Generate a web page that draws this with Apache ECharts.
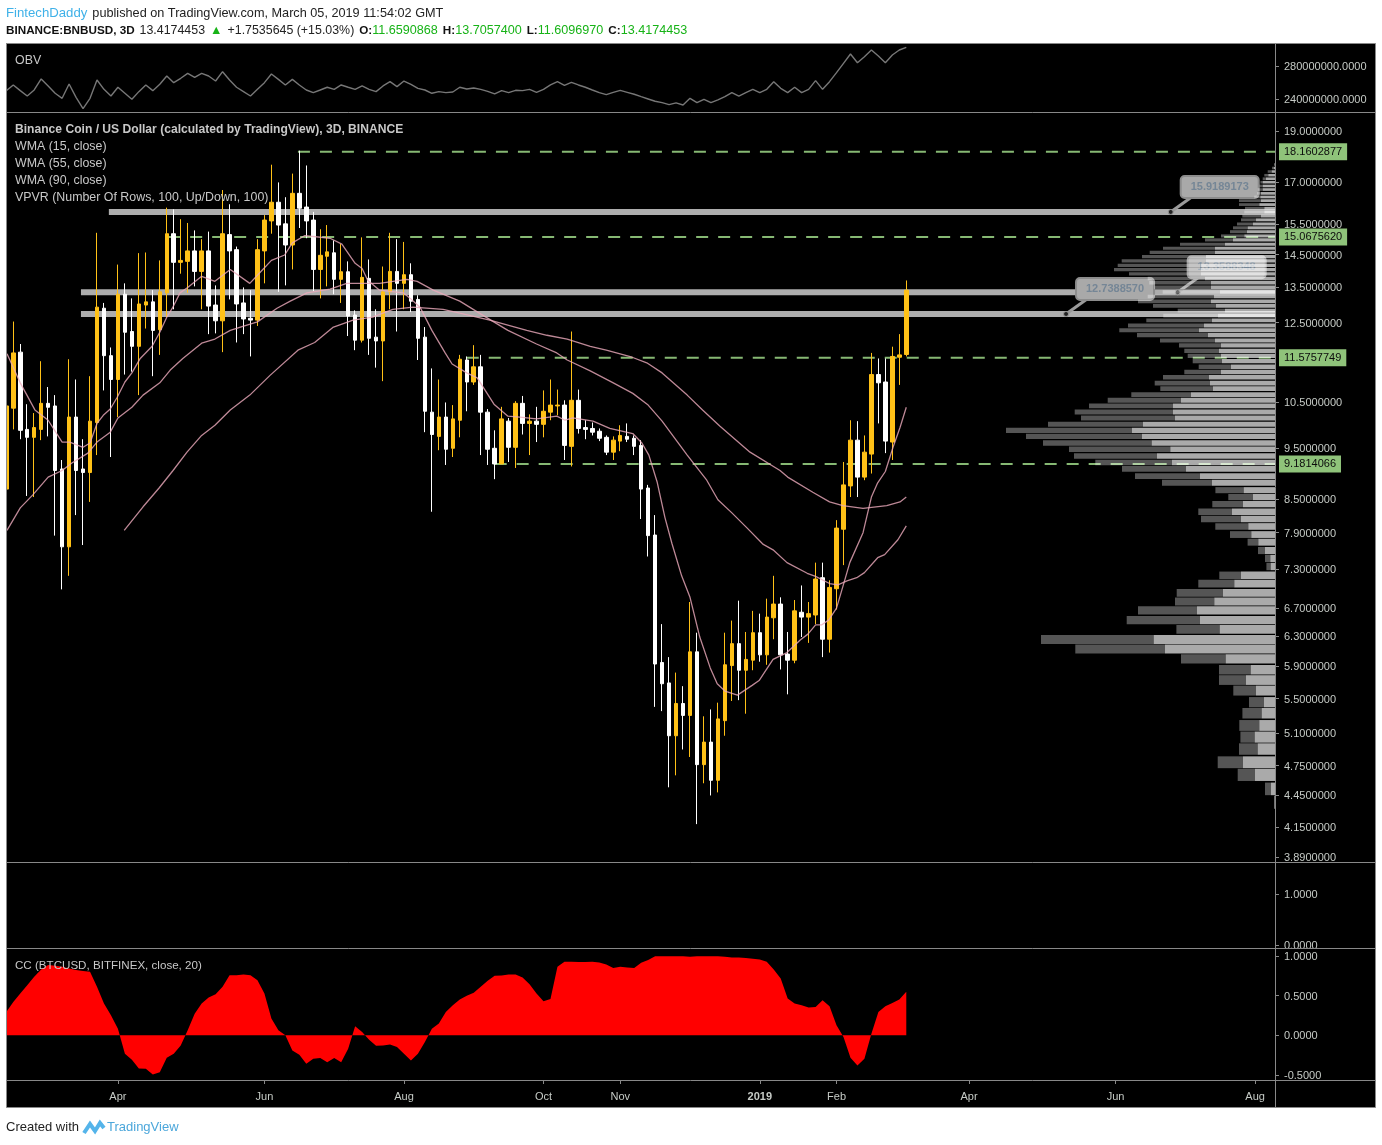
<!DOCTYPE html>
<html>
<head>
<meta charset="utf-8">
<title>BNBUSD 3D</title>
<style>
  html, body { margin: 0; padding: 0; background: #fff; }
  #main { width: 1382px; height: 1145px; }
</style>
<script src="https://cdn.jsdelivr.net/npm/echarts@6/dist/echarts.min.js"></script>
</head>
<body>
<div id="main"></div>
<script>
// open, close, low, high per 3D bar
const ohlc = [
  [8.69,10.42,8.69,10.42],[10.37,11.70,9.90,12.53],[11.72,9.88,9.69,11.93],[9.90,9.73,8.56,10.46],[9.73,9.94,8.54,10.26],
  [9.90,10.48,9.67,11.49],[10.48,10.39,9.75,10.86],[10.42,9.05,7.85,10.67],[9.08,7.66,6.98,9.26],[7.66,10.17,7.19,11.54],
  [10.17,9.05,8.21,11.04],[9.08,9.01,7.69,9.69],[9.01,10.08,8.45,11.12],[10.05,12.93,9.36,15.21],[12.90,11.63,10.78,13.05],
  [11.63,11.04,9.32,11.84],[11.04,13.30,10.17,14.19],[13.30,12.24,11.16,13.62],[12.26,11.87,11.23,13.18],[11.87,13.02,10.67,14.55],
  [12.99,13.08,12.34,14.57],[13.08,12.29,11.12,13.42],[12.31,13.37,11.65,14.32],[13.34,15.18,12.65,16.07],[15.18,14.26,12.87,16.01],
  [14.26,14.32,13.91,15.67],[14.29,14.62,13.34,15.54],[14.62,13.98,13.53,15.29],[13.98,14.62,12.87,15.00],[14.62,12.96,12.19,15.25],
  [12.99,12.55,12.21,13.56],[12.55,15.18,11.72,16.70],[15.15,14.62,13.15,16.19],[14.66,13.02,11.97,14.76],[13.05,12.60,12.19,13.50],
  [12.62,12.57,11.61,13.42],[12.57,14.66,12.41,15.00],[14.62,15.64,13.62,15.81],[15.61,16.26,15.18,17.65],[16.26,15.47,13.37,16.98],
  [15.51,14.81,13.56,16.44],[14.81,16.58,14.04,17.31],[16.58,16.05,15.37,18.20],[16.09,15.61,15.03,17.62],[15.64,14.04,13.39,15.92],
  [14.04,14.48,13.18,15.33],[14.45,14.59,13.53,15.47],[14.56,13.74,13.30,14.96],[13.74,13.97,13.05,14.84],[13.97,12.68,12.14,14.29],
  [12.71,12.03,11.77,12.84],[12.03,13.80,11.97,15.06],[13.77,12.08,11.65,14.35],[12.11,12.01,11.33,12.87],[12.01,13.37,11.00,14.13],
  [13.37,13.98,12.87,15.21],[13.98,13.62,12.26,15.00],[13.62,13.88,12.87,14.91],[13.88,13.10,12.79,14.23],[13.15,12.08,11.52,13.27],
  [12.11,10.30,9.84,12.38],[10.28,9.79,8.27,11.31],[9.75,10.17,9.46,11.04],[10.17,9.48,9.16,10.50],[9.50,10.13,9.32,10.44],
  [10.10,11.54,9.73,11.65],[11.52,10.98,10.30,11.61],[10.98,11.35,10.91,11.90],[11.35,10.28,9.36,11.65],[10.28,9.48,9.16,10.35],
  [9.50,9.18,8.88,9.88],[9.18,10.13,9.18,10.40],[10.08,9.52,9.22,10.15],[9.52,10.48,9.10,10.53],[10.48,10.03,9.79,10.65],
  [10.03,10.08,9.36,10.23],[10.08,10.01,9.63,10.40],[10.01,10.30,9.73,10.78],[10.28,10.44,10.10,11.04],[10.42,10.44,10.21,10.80],
  [10.44,9.56,9.26,10.55],[9.54,10.55,9.13,12.26],[10.55,9.92,9.81,10.80],[9.94,9.90,9.69,10.10],[9.92,9.84,9.77,10.05],
  [9.86,9.71,9.65,9.92],[9.73,9.42,9.36,9.77],[9.42,9.67,9.26,9.75],[9.65,9.77,9.44,9.99],[9.75,9.69,9.63,10.03],
  [9.71,9.54,9.36,9.77],[9.56,8.69,8.14,9.67],[8.71,7.85,7.50,8.77],[7.86,5.93,5.40,8.21],[5.95,5.68,5.35,6.47],
  [5.69,5.07,4.53,6.02],[5.07,5.44,4.65,5.82],[5.44,5.30,4.92,5.65],[5.30,6.09,4.84,6.79],[6.09,4.76,4.18,6.35],
  [4.76,5.00,4.57,5.29],[5.00,4.60,4.45,5.37],[4.60,5.26,4.48,5.45],[5.24,5.92,5.07,6.35],[5.91,6.20,5.47,6.52],
  [6.20,5.85,5.48,6.81],[5.85,5.99,5.32,6.36],[5.98,6.35,5.85,6.66],[6.35,6.05,5.96,6.62],[6.05,6.57,5.92,6.84],
  [6.56,6.76,6.26,7.19],[6.76,6.05,5.86,6.86],[6.06,5.98,5.55,6.36],[5.98,6.66,5.94,6.82],[6.64,6.57,6.29,7.04],
  [6.57,6.62,6.21,6.79],[6.60,7.14,6.47,7.40],[7.16,6.26,6.02,7.40],[6.26,7.01,6.08,7.12],[6.99,7.98,6.68,8.12],
  [7.96,8.77,7.36,9.22],[8.75,9.67,8.54,10.10],[9.67,8.92,8.54,10.08],[8.92,9.42,8.86,9.77],[9.38,11.16,8.99,11.70],
  [11.16,10.96,10.03,11.56],[10.98,9.65,9.40,11.56],[9.63,11.61,9.26,11.86],[11.59,11.65,10.91,12.19],[11.659,13.417,11.61,13.706]
];

// [bar index, price] read along each WMA
const wma15 = [
  [0.1,11.68],[2,10.96],[4.1,10.33],[6,10.10],[8,9.63],[9.1,9.63],[11,9.52],[12,9.61],[13,10.03],[13.9,10.21],[14.9,10.35],[15.9,10.62],
  [17,10.98],[18,11.20],[19.2,11.56],[20.9,11.87],[22,12.24],[23,12.65],[23.8,12.90],[24.9,13.34],[26,13.50],[28,13.83],[29.9,13.68],
  [32.1,14.04],[34.9,13.62],[36.6,14.00],[38,14.32],[39.9,14.49],[41,14.88],[42.8,15.12],[46.4,15.03],[48.1,14.84],[50,14.23],[51,14.07],
  [51.8,13.71],[53.5,13.42],[56.9,13.34],[57.9,13.18],[59.3,12.93],[61,12.29],[62.9,11.70],[63.9,11.42],[66,11.20],[67.5,11.08],
  [69.9,10.46],[71.9,10.19],[73.6,10.17],[76,10.13],[78.9,10.19],[80.1,10.10],[81.2,10.15],[84.1,10.08],[86.5,9.92],[89.8,9.81],
  [91.1,9.61],[92.1,9.36],[93.3,8.82],[94.4,8.17],[95.4,7.72],[96.8,7.19],[98,6.86],[99.4,6.29],[100.9,5.88],[101.9,5.68],[103,5.59],
  [104.8,5.54],[106.9,5.66],[107.9,5.72],[109.9,5.99],[111.9,6.08],[113.8,6.25],[114.9,6.33],[116,6.46],[116.9,6.46],[117.9,6.53],
  [119,6.70],[120.2,7.13],[120.9,7.40],[122.8,7.90],[124,8.54],[124.9,8.81],[126,9.03],[127.1,9.52],[128.1,9.94],[129,10.39]
];
const wma55 = [
  [0.1,7.94],[2,8.34],[3.8,8.58],[6,8.92],[8,9.05],[9.4,9.20],[11.7,9.40],[13,9.63],[14.9,9.84],[16,10.15],[18,10.39],[19.6,10.67],
  [22,10.96],[23.5,11.27],[25.3,11.56],[28,11.95],[29.9,12.06],[32.1,12.29],[33.9,12.40],[36,12.52],[38.8,12.90],[40.7,13.10],
  [43.1,13.34],[46.4,13.45],[48.8,13.62],[50.7,13.62],[53.5,13.62],[57.4,13.74],[58.9,13.68],[61.2,13.42],[65,13.10],[68.5,12.68],
  [71.9,12.29],[76,11.93],[78.9,11.70],[80.4,11.52],[83.7,11.25],[87,10.96],[89.8,10.71],[92,10.44],[94,10.08],[97.6,9.36],[100.4,8.86],
  [102,8.49],[104,8.25],[106.2,7.98],[108.5,7.70],[109.9,7.61],[111.9,7.40],[114.8,7.23],[116,7.18],[118,7.07],[119.2,7.05],[120.5,7.11],
  [121.9,7.16],[123,7.24],[124.9,7.48],[125.9,7.53],[127.8,7.78],[129,8.02]
];
const wma90 = [
  [16.9,7.94],[19.6,8.36],[21.9,8.71],[23.9,9.05],[25.9,9.42],[28,9.77],[29.9,9.99],[32.1,10.33],[34.9,10.67],[37.8,11.14],[41.8,11.77],
  [44.2,11.97],[46.8,12.37],[49.7,12.57],[52.5,12.65],[55.4,12.87],[58.3,12.93],[62.6,12.87],[65,12.76],[69.3,12.57],[74.6,12.29],
  [77.5,12.16],[80.4,12.06],[83.7,11.87],[86,11.77],[89.7,11.59],[91.8,11.45],[94,11.20],[97.6,10.67],[99.8,10.33],[102.3,9.97],
  [106.6,9.42],[110.9,9.05],[112,8.92],[115.6,8.63],[118,8.45],[119.9,8.38],[122.8,8.33],[126.2,8.38],[128.1,8.45],[129,8.54]
];

// OBV in millions, one per bar
const obv = [
  250.1,257,250.1,243.6,250.9,264.3,255.8,246.9,240.8,258.2,242,228.3,240.8,263,251.7,243.6,254.2,246.9,239.6,248.9,
  257,250.1,257.8,267.9,259.8,265.1,271.1,266.3,271.1,267.9,261.8,273.1,263,254.2,248.9,243.6,251.7,259.8,270.3,263.8,
  257,263.8,257,250.9,247.7,250.9,254.2,251.7,257,254.2,251.7,255.8,251.7,248.9,255.8,261,255,261.8,257.8,252.9,
  250.9,246.9,248.9,247.7,248.5,254.2,252.1,253.3,251.7,249.3,246.1,250.1,247.7,250.5,250.1,251.7,248.1,251.7,257,261,
  256.6,260.2,257,254.2,250.9,247.7,245.3,248.1,250.5,248.1,245.7,242.8,240,237.2,235.6,233.1,235.2,232.7,240.8,235.6,
  239.6,235.6,238.8,242.8,247.7,243.6,247.7,251.7,247.7,251.7,261,252.9,247.7,254.2,247.7,251.7,262.2,251.7,261,271.9,
  283.2,294.6,284,291.3,299.4,292.1,284,293.3,299.4,302.6
];

// CC (BTCUSD) correlation, one per bar
const cc = [
  .295,.422,.527,.633,.738,.831,.886,.878,.865,.844,.823,.81,.802,.612,.401,.253,.084,-.232,-.308,-.418,
  -.422,-.494,-.464,-.283,-.232,-.127,.063,.274,.401,.477,.519,.612,.759,.759,.768,.759,.696,.527,.211,.063,
  0,-.19,-.245,-.359,-.295,-.287,-.338,-.287,-.338,-.169,.114,.042,-.055,-.131,-.127,-.114,-.148,-.232,-.316,-.232,
  -.084,.084,.148,.295,.38,.451,.498,.536,.612,.688,.751,.755,.768,.768,.73,.646,.527,.43,.46,.865,
  .928,.928,.924,.924,.928,.92,.895,.848,.865,.857,.848,.916,.949,.996,.996,.996,.996,.996,.992,.996,
  .996,.996,.996,.992,.983,.983,.975,.966,.958,.928,.831,.717,.464,.401,.38,.35,.359,.443,.367,.127,
  -.021,-.283,-.38,-.295,.021,.295,.367,.409,.451,.549
];

// volume profile rows, bottom to top
const vpvrPrices = [
  4.38,4.51,4.65,4.78,4.92,5.05,5.18,5.32,5.45,5.59,5.72,5.85,5.99,6.12,6.25,6.39,6.52,6.66,6.79,6.92,
  7.06,7.19,7.33,7.46,7.59,7.73,7.86,8.00,8.13,8.26,8.40,8.53,8.66,8.80,8.93,9.07,9.20,9.33,9.47,9.60,
  9.74,9.87,10.00,10.14,10.27,10.41,10.54,10.67,10.81,10.94,11.08,11.21,11.34,11.48,11.61,11.74,11.88,12.01,12.15,12.28,
  12.41,12.55,12.68,12.82,12.95,13.08,13.22,13.35,13.49,13.62,13.75,13.89,14.02,14.15,14.29,14.42,14.56,14.69,14.82,14.96,
  15.09,15.23,15.36,15.49,15.63,15.76,15.90,16.03,16.16,16.30,16.43,16.56,16.70,16.83,16.97,17.10,17.23,17.37,17.50,17.64
];
const vpvrUp = [
  .5,4,20,32,17.3,20.3,15.7,13.3,11,19,29,24.3,49.3,110,121.3,55.3,75,78,60.7,52,
  40.7,34,4.3,4.7,10,16.7,23.7,26.7,34,43,32,22,31.3,63,75,89,103,118,104.7,123.3,
  133,143,132,100,102,102,94,84,62,65,66,54,44,53,54,56,54,60,67,76,
  71,63,57,50,59,64,61,55,64,64,70,74,74,74,69,69,60,60,50,42,
  30.7,28,27.3,22,19,14,10.7,10.7,15.7,14,14.7,14,12.3,12.3,12.3,9,6.7,3.3,1.3,.5
];
const vpvrDown = [
  .5,6,17.3,25.3,18.7,14.3,20,19.3,15,22.7,27,31.7,44.7,89.7,112.7,43.3,73.3,59,39.3,46.3,
  36,21.7,4.3,5.3,7,10.7,21.3,33,40,33.7,30.7,24.7,28.3,50,65,64,76.7,83,101.3,108.7,
  116,126,95,94,98.3,84,73.3,59.7,52.7,55.3,46,36.7,32.3,29.3,33.3,34.7,42,55,71,79.7,
  76,65.7,54.7,47.3,63,73,66.3,57.3,56.7,61.7,57.3,72,87,83.3,84.3,64,65.3,52,45,28,
  23.3,17,14.7,16,15,18.7,20,19.3,20.3,22,6,4,5,3.3,2.3,3.3,4,4,1.7,.3
];
const vpvrStep = 0.1339;

// horizontal levels: price and first bar of the drawing
const dashedLevels = [18.1602877, 15.0675620, 11.5757749, 9.1814066];
const dashedStarts = [41.8, 23.2, 66, 70];
const solidLevels = [15.9189173, 13.3588348, 12.7388570];
const solidStarts = [14.7, 10.7, 10.7];
const calloutBars = [166.9, 167.9, 151.9];

const priceTicks = [19,17,15.5,14.5,13.5,12.5,10.5,9.5,8.5,7.9,7.3,6.7,6.3,5.9,5.5,5.1,4.75,4.45,4.15,3.89];
const obvTicks = [280000000, 240000000];
const blankTicks = [1, 0];
const ccTicks = [1, 0.5, 0, -0.5];
const monthBars = [16, 37, 57, 77, 88, 108, 119, 138, 159, 179];
const monthLabels = ['Apr','Jun','Aug','Oct','Nov','2019','Feb','Apr','Jun','Aug'];

const labelColor = '#c6cbc6';
const font = '"Liberation Sans", Arial, sans-serif';
const xMin = 0.1, xMax = 181.85;

const chart = echarts.init(document.getElementById('main'), null, { renderer: 'canvas' });

const grids = [
  { left: 7, width: 1268, top: 44, height: 68 },
  { left: 7, width: 1268, top: 113, height: 749 },
  { left: 7, width: 1268, top: 863, height: 85 },
  { left: 7, width: 1268, top: 949, height: 131 }
];

const xAxes = [0, 1, 2, 3].map(i => ({
  type: 'value',
  gridIndex: i,
  position: 'bottom',
  min: xMin,
  max: xMax,
  splitLine: { show: false },
  axisLine: { show: false, onZero: false },
  axisTick: i === 3 ? { show: true, length: 4, lineStyle: { color: '#888' }, customValues: monthBars } : { show: false },
  axisLabel: i === 3 ? {
    show: true,
    customValues: monthBars,
    margin: 11,
    color: labelColor,
    fontFamily: font,
    fontSize: 11,
    formatter: v => {
      const name = monthLabels[monthBars.indexOf(v)]
      return name === '2019' ? '{b|2019}' : name
    },
    rich: { b: { fontWeight: 'bold', color: labelColor, fontSize: 11, fontFamily: font } }
  } : { show: false }
}));
// hidden axis for the volume profile, grows from the right edge
xAxes.push({ type: 'value', gridIndex: 1, min: 0, max: 1268, inverse: true, show: false, splitLine: { show: false } });

function rightAxis(extra, ticks, digits) {
  return Object.assign({
    position: 'right',
    splitLine: { show: false },
    axisLine: { show: true, lineStyle: { color: '#888' } },
    axisTick: { show: true, length: 4, inside: false, lineStyle: { color: '#888' }, customValues: ticks },
    axisLabel: {
      show: true,
      customValues: ticks,
      margin: 9,
      color: labelColor,
      fontFamily: font,
      fontSize: 11,
      showMinLabel: true,
      showMaxLabel: true,
      formatter: v => '{v|' + Number(v).toFixed(digits) + '}',
      rich: { v: { color: labelColor, fontFamily: font, fontSize: 11, padding: [2, 0, 0, 0] } }
    }
  }, extra)
}

const yAxes = [
  rightAxis({ type: 'value', gridIndex: 0, min: 224200000, max: 306700000 }, obvTicks, 4),
  rightAxis({ type: 'log', gridIndex: 1, min: 3.848, max: 19.76 }, priceTicks, 7),
  rightAxis({ type: 'value', gridIndex: 2, min: -0.059, max: 1.608 }, blankTicks, 4),
  rightAxis({ type: 'value', gridIndex: 3, min: -0.563, max: 1.089 }, ccTicks, 4)
];

const series = [];

// solid gray levels
solidLevels.forEach((level, i) => {
  series.push({
    type: 'line', xAxisIndex: 1, yAxisIndex: 1, z: 1, silent: true, showSymbol: false, animation: false,
    data: [[solidStarts[i], level], [xMax, level]],
    lineStyle: { color: '#adadad', width: 6 }
  })
});

// dashed green levels with their tags on the price axis
dashedLevels.forEach((level, i) => {
  series.push({
    type: 'line', xAxisIndex: 1, yAxisIndex: 1, z: 1, silent: true, showSymbol: false, animation: false,
    data: [[dashedStarts[i], level], [xMax, level]],
    lineStyle: { color: '#86b873', width: 2, type: [12, 10] },
    endLabel: {
      show: true,
      distance: 4,
      formatter: () => level.toFixed(7),
      color: '#0c0c0c',
      fontFamily: font,
      fontSize: 11,
      backgroundColor: '#8fc37a',
      padding: [3, 5, 3, 5]
    }
  })
});

series.push({
  type: 'candlestick',
  xAxisIndex: 1,
  yAxisIndex: 1,
  z: 2,
  barWidth: 4,
  animation: false,
  data: ohlc.map((row, i) => [i].concat(row)),
  encode: { x: 0, y: [1, 2, 3, 4] },
  itemStyle: { color: '#ffc117', color0: '#ffffff', borderColor: '#ffc117', borderColor0: '#ffffff', borderWidth: 1 }
});

[wma15, wma55, wma90].forEach(points => {
  series.push({
    type: 'line', xAxisIndex: 1, yAxisIndex: 1, z: 3, showSymbol: false, animation: false,
    data: points,
    lineStyle: { color: 'rgba(236,170,188,0.8)', width: 1.3 }
  })
});

// callouts, the profile sits on top of them
series.push({
  type: 'custom',
  xAxisIndex: 1,
  yAxisIndex: 1,
  z: 3,
  silent: true,
  animation: false,
  encode: { x: 0, y: 1 },
  data: solidLevels.map((level, i) => [calloutBars[i], level]),
  renderItem: (params, api) => {
    const level = api.value(1)
    const p = api.coord([api.value(0), level])
    return {
      type: 'group',
      children: [
        { type: 'line', shape: { x1: p[0], y1: p[1], x2: p[0] + 21, y2: p[1] - 15 }, style: { stroke: '#9a9a9a', lineWidth: 3 } },
        { type: 'rect', shape: { x: p[0] + 10, y: p[1] - 36, width: 78, height: 22, r: 4 }, style: { fill: '#a9a9a9', stroke: '#8c8c8c', lineWidth: 2 } },
        { type: 'text', x: p[0] + 49, y: p[1] - 25, style: { text: level.toFixed(7), fill: '#758696', font: 'bold 11px ' + font, textAlign: 'center', textVerticalAlign: 'middle' } },
        { type: 'circle', shape: { cx: p[0], cy: p[1], r: 2.5 }, style: { fill: '#222', stroke: '#999', lineWidth: 1 } }
      ]
    }
  }
});

series.push({
  type: 'custom',
  xAxisIndex: 4,
  yAxisIndex: 1,
  z: 4,
  silent: true,
  animation: false,
  encode: { x: 1, y: 0 },
  data: vpvrPrices.map((p, i) => [p, vpvrUp[i], vpvrDown[i]]),
  renderItem: (params, api) => {
    const price = api.value(0)
    const up = api.value(1)
    const down = api.value(2)
    const top = api.coord([0, price + vpvrStep / 2])[1]
    const bottom = api.coord([0, price - vpvrStep / 2])[1]
    const x0 = api.coord([0, price])[0]
    const x1 = api.coord([up, price])[0]
    const x2 = api.coord([up + down, price])[0]
    const h = Math.max(bottom - top - 1, 1)
    return {
      type: 'group',
      children: [
        { type: 'rect', shape: { x: x1, y: top, width: x0 - x1, height: h }, style: { fill: 'rgba(255,255,255,0.667)' } },
        { type: 'rect', shape: { x: x2, y: top, width: x1 - x2, height: h }, style: { fill: 'rgba(255,255,255,0.333)' } }
      ]
    }
  }
});

series.push({
  type: 'line', xAxisIndex: 0, yAxisIndex: 0, z: 2, showSymbol: false, animation: false,
  data: obv.map((v, i) => [i, v * 1000000]),
  lineStyle: { color: '#777', width: 1.4 }
});

series.push({
  type: 'line', xAxisIndex: 3, yAxisIndex: 3, z: 2, showSymbol: false, animation: false,
  data: cc.map((v, i) => [i, v]),
  lineStyle: { color: '#ff0000', width: 0 },
  areaStyle: { color: '#ff0000', origin: 0, opacity: 1 }
});

function caption(x, y, text, extra) {
  return {
    type: 'text', x: x, y: y, z: 10,
    style: Object.assign({ text: text, fill: '#c8c8c8', font: '12.4px ' + font, textVerticalAlign: 'middle' }, extra)
  }
}
function rule(y) {
  return { type: 'line', z: 1, shape: { x1: 6, y1: y, x2: 1375, y2: y }, style: { stroke: '#888', lineWidth: 1 } }
}

const graphics = [
  { type: 'rect', z: -1, shape: { x: 6.5, y: 43.5, width: 1369, height: 1064 }, style: { fill: '#000', stroke: '#888', lineWidth: 1 } },
  rule(112.5), rule(862.5), rule(948.5), rule(1080.5),
  { type: 'line', z: 1, shape: { x1: 1275.5, y1: 1080, x2: 1275.5, y2: 1107 }, style: { stroke: '#888', lineWidth: 1 } },
  // first candle is cut by the pane edge
  { type: 'rect', z: 20, shape: { x: 0, y: 44, width: 6, height: 1060 }, style: { fill: '#fff' } },
  { type: 'line', z: 21, shape: { x1: 6.5, y1: 43, x2: 6.5, y2: 1107 }, style: { stroke: '#888', lineWidth: 1 } },
  caption(15, 61, 'OBV'),
  caption(15, 130, 'Binance Coin / US Dollar (calculated by TradingView), 3D, BINANCE', { font: 'bold 12.1px ' + font }),
  caption(15, 147, 'WMA (15, close)'),
  caption(15, 164, 'WMA (55, close)'),
  caption(15, 181, 'WMA (90, close)'),
  caption(15, 198, 'VPVR (Number Of Rows, 100, Up/Down, 100)'),
  caption(15, 966, 'CC (BTCUSD, BITFINEX, close, 20)', { font: '11.6px ' + font }),
  { type: 'polyline', z: 10, shape: { points: [[84, 1133], [90, 1124], [95, 1131], [100, 1123], [104, 1128]] }, style: { stroke: '#54b4ea', fill: null, lineWidth: 4 } },
  caption(107, 1127, 'TradingView', { fill: '#4ca7db', font: '13px ' + font }),
  caption(6, 1127, 'Created with', { fill: '#222', font: '13px ' + font })
];

// header lines are rich text titles
const green = '#17b317';
const titles = [
  {
    left: 6, top: 4, padding: 0,
    text: '{user|FintechDaddy} {txt|published on TradingView.com, March 05, 2019 11:54:02 GMT}',
    textStyle: { fontWeight: 'normal', rich: {
      user: { color: '#3fb1e8', fontSize: 13.2, fontFamily: font, fontWeight: 'normal' },
      txt: { color: '#222', fontSize: 12.7, fontFamily: font, fontWeight: 'normal' }
    } }
  },
  {
    left: 6, top: 22, padding: 0,
    text: '{b|BINANCE:BNBUSD, 3D} {txt|13.4174453} {g|▲} {txt|+1.7535645 (+15.03%)} {b|O:}{g|11.6590868} {b|H:}{g|13.7057400} {b|L:}{g|11.6096970} {b|C:}{g|13.4174453}',
    textStyle: { fontWeight: 'normal', rich: {
      b: { color: '#111', fontWeight: 'bold', fontSize: 11.7, fontFamily: font },
      txt: { color: '#222', fontSize: 12.4, fontFamily: font, fontWeight: 'normal' },
      g: { color: green, fontSize: 12.6, fontFamily: font, fontWeight: 'normal' }
    } }
  }
];

chart.setOption({
  animation: false,
  backgroundColor: '#fff',
  title: titles,
  grid: grids,
  xAxis: xAxes,
  yAxis: yAxes,
  series: series,
  graphic: graphics
});
</script>
</body>
</html>
